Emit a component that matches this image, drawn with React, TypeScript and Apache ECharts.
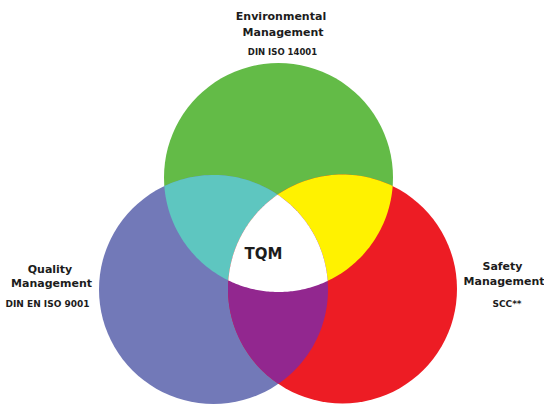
import React, { useEffect, useRef } from "react";
import * as echarts from "echarts";

// Venn sets (A = Environmental, B = Quality, C = Safety)
const setNames = ["Environmental Management", "Quality Management", "Safety Management"];
const setStandards = ["DIN ISO 14001", "DIN EN ISO 9001", "SCC**"];
const circleX = [278.5, 213.5, 342.5];
const circleY = [177.5, 289.5, 289];
const circleR = [114.5, 114.5, 114.5];
const pairs = [
  [0, 1],
  [0, 2],
  [1, 2],
];
const coreLabel = "TQM";

const circleColors = ["#63bb47", "#7279b8", "#ed1c24"];
const pairColors = ["#5ec6c0", "#fff200", "#92278f"];
const coreColor = "#ffffff";

type P = [number, number];

function intersect(c1: P, r1: number, c2: P, r2: number): P[] {
  const dx = c2[0] - c1[0];
  const dy = c2[1] - c1[1];
  const d = Math.hypot(dx, dy);
  const a = (r1 * r1 - r2 * r2 + d * d) / (2 * d);
  const h = Math.sqrt(Math.max(0, r1 * r1 - a * a));
  const mx = c1[0] + (a * dx) / d;
  const my = c1[1] + (a * dy) / d;
  return [
    [mx + (h * -dy) / d, my + (h * dx) / d],
    [mx - (h * -dy) / d, my - (h * dx) / d],
  ];
}

function arc(c: P, r: number, from: P, to: P): P[] {
  const a1 = Math.atan2(from[1] - c[1], from[0] - c[0]);
  const a2 = Math.atan2(to[1] - c[1], to[0] - c[0]);
  let d = a2 - a1;
  while (d > Math.PI) d -= 2 * Math.PI;
  while (d < -Math.PI) d += 2 * Math.PI;
  const n = 64;
  const pts: P[] = [];
  for (let i = 0; i <= n; i++) {
    const t = a1 + (d * i) / n;
    pts.push([c[0] + r * Math.cos(t), c[1] + r * Math.sin(t)]);
  }
  return pts;
}

function pix(api: any, i: number): { c: P; r: number } {
  const c = api.coord([circleX[i], circleY[i]]) as P;
  const s = api.size([circleR[i], circleR[i]]);
  return { c, r: Math.abs(s[0]) };
}

function dist(a: P, b: P) {
  return Math.hypot(a[0] - b[0], a[1] - b[1]);
}

function innerPoint(api: any, i: number, j: number, k: number): P {
  const A = pix(api, i);
  const B = pix(api, j);
  const C = pix(api, k);
  const pts = intersect(A.c, A.r, B.c, B.r);
  return dist(pts[0], C.c) < dist(pts[1], C.c) ? pts[0] : pts[1];
}

export default function App() {
  const ref = useRef<HTMLDivElement>(null);
  useEffect(() => {
    document.body.style.margin = "0";
    const chart = echarts.init(ref.current!, null, { renderer: "svg" });
    const textColor = "#1c1c1c";
    const font = "DejaVu Sans";
    const txt = (text: string, x: number, y: number, size: number) => ({
      type: "text",
      x,
      y,
      z: 10,
      style: {
        text,
        fill: textColor,
        font: `bold ${size}px "${font}"`,
        align: "center",
        verticalAlign: "middle",
      },
    });
    const [envTitle, envSub] = [setNames[0].split(" "), setStandards[0]];
    const [qTitle, qSub] = [setNames[1].split(" "), setStandards[1]];
    const [sTitle, sSub] = [setNames[2].split(" "), setStandards[2]];

    chart.setOption({
      animation: false,
      backgroundColor: "#ffffff",
      grid: { left: 0, right: 0, top: 0, bottom: 0 },
      xAxis: { type: "value", min: 0, max: 544, show: false },
      yAxis: { type: "value", min: 0, max: 409, inverse: true, show: false },
      series: [
        {
          type: "custom",
          name: "sets",
          silent: true,
          data: circleX.map((x, i) => [x, circleY[i], circleR[i]]),
          renderItem: (params: any, api: any) => {
            const c = api.coord([api.value(0), api.value(1)]);
            const r = Math.abs(api.size([api.value(2), api.value(2)])[0]);
            return {
              type: "circle",
              shape: { cx: c[0], cy: c[1], r },
              style: { fill: circleColors[params.dataIndex] },
            };
          },
          z: 1,
        },
        {
          type: "custom",
          name: "pairs",
          silent: true,
          data: pairs.map((p) => [circleX[p[0]], circleY[p[0]]]),
          renderItem: (params: any, api: any) => {
            const [i, j] = pairs[params.dataIndex];
            const A = pix(api, i);
            const B = pix(api, j);
            const [p1, p2] = intersect(A.c, A.r, B.c, B.r);
            const points = [...arc(A.c, A.r, p1, p2), ...arc(B.c, B.r, p2, p1)];
            return {
              type: "polygon",
              shape: { points },
              style: { fill: pairColors[params.dataIndex] },
            };
          },
          z: 2,
        },
        {
          type: "custom",
          name: "core",
          silent: true,
          data: [[circleX[0], circleY[0]]],
          renderItem: (params: any, api: any) => {
            const A = pix(api, 0);
            const B = pix(api, 1);
            const C = pix(api, 2);
            const vAB = innerPoint(api, 0, 1, 2);
            const vBC = innerPoint(api, 1, 2, 0);
            const vCA = innerPoint(api, 2, 0, 1);
            const points = [
              ...arc(A.c, A.r, vAB, vCA),
              ...arc(C.c, C.r, vCA, vBC),
              ...arc(B.c, B.r, vBC, vAB),
            ];
            return {
              type: "polygon",
              shape: { points },
              style: { fill: coreColor },
            };
          },
          z: 3,
        },
      ],
      graphic: [
        txt(envTitle[0], 281, 16.5, 11),
        txt(envTitle[1], 283, 32.5, 11),
        txt(envSub, 282.5, 52, 8.5),
        txt(qTitle[0], 50, 269, 11),
        txt(qTitle[1], 51.5, 283, 11),
        txt(qSub, 47.5, 303.5, 9),
        txt(sTitle[0], 502.5, 266.5, 11),
        txt(sTitle[1], 504, 281, 11),
        txt(sSub, 507, 304, 9),
        txt(coreLabel, 263.5, 253.5, 15),
      ],
    });
    return () => chart.dispose();
  }, []);
  return <div ref={ref} style={{ width: 544, height: 409 }} />;
}
